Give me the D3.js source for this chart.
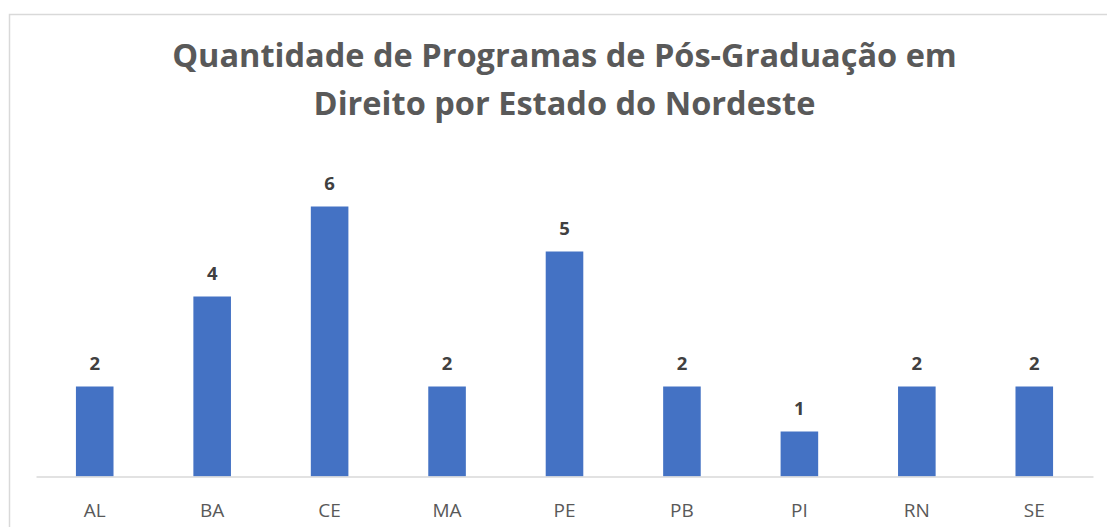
<!DOCTYPE html>
<html>
<head>
<meta charset="utf-8">
<script src="https://cdn.jsdelivr.net/npm/d3@7"></script>
<style>
  body { margin: 0; background: #fff; }
  svg { display: block; font-family: "Open Sans", sans-serif; }
</style>
</head>
<body>
<svg width="1107" height="527"></svg>
<script>
// data
var estados = ["AL", "BA", "CE", "MA", "PE", "PB", "PI", "RN", "SE"]
var programas = [2, 4, 6, 2, 5, 2, 1, 2, 2]
var titulo = ["Quantidade de Programas de Pós-Graduação em", "Direito por Estado do Nordeste"]

var svg = d3.select("svg")

// chart border (runs off the right and bottom of the picture)
svg.append("rect")
  .attr("x", 9.5).attr("y", 14.5)
  .attr("width", 1200).attr("height", 600)
  .attr("fill", "none")
  .attr("stroke", "#d9d9d9")
  .attr("stroke-width", 1.5)

// title
var title = svg.append("g")
  .attr("fill", "#595959")
  .attr("font-weight", "bold")
  .attr("text-anchor", "middle")

title.selectAll("text")
  .data(titulo)
  .enter().append("text")
  .attr("x", 564.5)
  .attr("y", function(d, i) { return 67 + i * 48 })
  .attr("font-size", 28)
  .text(function(d) { return d })

// fit the first line to the width it has in the original
var w = title.select("text").node().getComputedTextLength()
var fs = 28 * 785 / w
title.selectAll("text").attr("font-size", fs)

var x = d3.scaleBand()
  .domain(estados)
  .range([36, 1093])
  .paddingInner(0.68)
  .paddingOuter(0.34)

var y = d3.scaleLinear()
  .domain([0, 7])
  .range([476.5, 476.5 - 7 * 45])

// bars
svg.append("g")
  .selectAll("rect")
  .data(programas)
  .enter().append("rect")
  .attr("x", function(d, i) { return x(estados[i]) })
  .attr("y", function(d) { return y(d) })
  .attr("width", x.bandwidth())
  .attr("height", function(d) { return y(0) - y(d) })
  .attr("fill", "#4472c4")

// data labels
svg.append("g")
  .attr("fill", "#404040")
  .attr("font-weight", "bold")
  .attr("font-size", 18.5)
  .attr("text-anchor", "middle")
  .selectAll("text")
  .data(programas)
  .enter().append("text")
  .attr("x", function(d, i) { return x(estados[i]) + x.bandwidth() / 2 })
  .attr("y", function(d) { return y(d) - 16.5 })
  .text(function(d) { return d })

// x axis
var xAxis = svg.append("g")
  .attr("transform", "translate(0," + y(0) + ")")
  .call(d3.axisBottom(x).tickSize(0).tickPadding(27))

xAxis.select(".domain").attr("stroke", "#d9d9d9").attr("stroke-width", 1.5)
xAxis.selectAll("text")
  .attr("fill", "#595959")
  .attr("font-size", 19)
  .attr("font-family", "Open Sans, sans-serif")
</script>
</body>
</html>
